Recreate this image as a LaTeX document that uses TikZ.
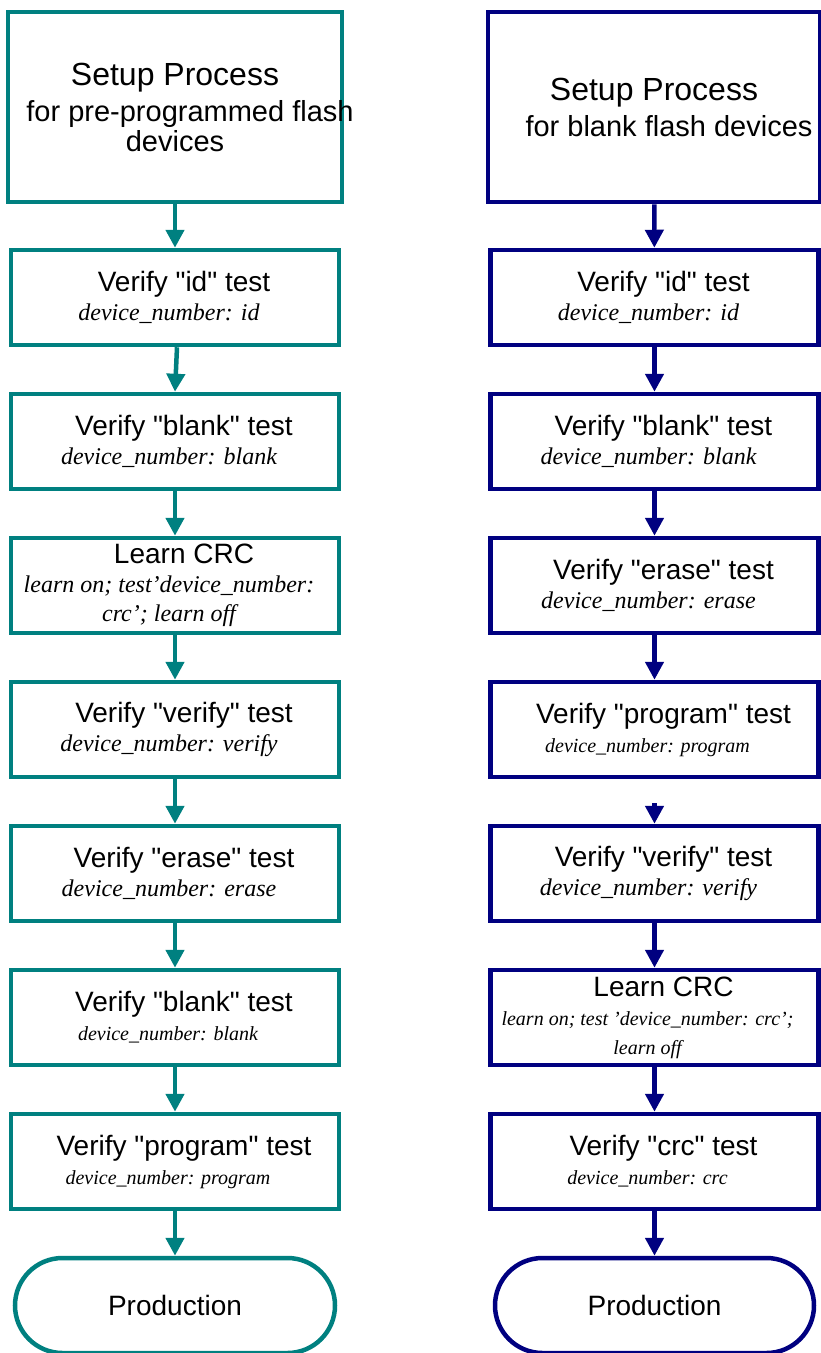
\documentclass[tikz,border=0pt]{standalone}
\usepackage{fontspec}
\setmainfont{Liberation Serif}
\setsansfont{Liberation Sans}
\usetikzlibrary{arrows.meta,shapes.misc}
\definecolor{tealline}{RGB}{0,128,128}
\definecolor{navyline}{RGB}{0,0,128}
\newcommand{\dq}{\XeTeXglyph\the\XeTeXcharglyph"22\relax}
\newcommand{\qt}[1]{\dq#1\dq}
\newcommand{\titleline}[1]{\hbox to 18pt{}#1}
\newcommand{\noteline}[1]{{\rmfamily\itshape\fontsize{24}{29}\selectfont #1\hbox to 12pt{}}}
\newcommand{\smallnote}[1]{{\rmfamily\itshape\fontsize{20}{29}\selectfont #1\hbox to 14pt{}}}
\newcommand{\setupline}[1]{{\fontsize{29}{30}\selectfont\makebox[280pt]{\hbox to 30pt{}#1}}}
\tikzset{
  stepbox/.style={draw=#1, line width=4.5pt, minimum width=328pt, minimum height=95pt,
    inner sep=0pt, align=center, font=\sffamily\fontsize{28}{29}\selectfont},
  setupbox/.style={stepbox=#1, minimum height=190pt, font=\sffamily\fontsize{32}{33}\selectfont},
  endbox/.style={draw=#1, rounded rectangle, line width=4.5pt, minimum width=320pt,
    minimum height=95pt, inner sep=0pt, font=\sffamily\fontsize{28}{29}\selectfont},
  flow/.style={draw=#1, line width=4.5pt, -{Triangle[width=18pt,length=18pt,fill=#1]}}
}
\begin{document}
\begin{tikzpicture}[x=1pt, y=1pt]
    \useasboundingbox (0,0) rectangle (821,-1353);

    % Pre-programmed devices
    \node[setupbox=tealline, minimum width=334pt] (lsetup) at (175,-107)
        {Setup Process\\[3pt]\setupline{for pre-programmed flash}\\[-3pt]{\fontsize{29}{30}\selectfont devices}};
    \node[stepbox=tealline] (l1) at (175,-297.5) {\titleline{Verify \qt{id} test}\\\noteline{device\_number: id}};
    \node[stepbox=tealline] (l2) at (175,-441.5) {\titleline{Verify \qt{blank} test}\\\noteline{device\_number: blank}};
    \node[stepbox=tealline] (l3) at (175,-585.5) {\titleline{Learn CRC}\\\noteline{learn on; test'device\_number:}\\\noteline{crc'; learn off}};
    \node[stepbox=tealline] (l4) at (175,-729.5) {\titleline{Verify \qt{verify} test}\\\noteline{device\_number: verify}};
    \node[stepbox=tealline] (l5) at (175,-873.5) {\titleline{Verify \qt{erase} test}\\\noteline{device\_number: erase}};
    \node[stepbox=tealline] (l6) at (175,-1017.5) {\titleline{Verify \qt{blank} test}\\\smallnote{device\_number: blank}};
    \node[stepbox=tealline] (l7) at (175,-1161.5) {\titleline{Verify \qt{program} test}\\\smallnote{device\_number: program}};
    \node[endbox=tealline] (lend) at (175,-1305.5) {Production};

    \draw[flow=tealline] (lsetup) -- (l1);
    \draw[flow=tealline] ([xshift=2pt]l1.south) -- (l2.north);
    \draw[flow=tealline] (l2) -- (l3);
    \draw[flow=tealline] (l3) -- (l4);
    \draw[flow=tealline] (l4) -- (l5);
    \draw[flow=tealline] (l5) -- (l6);
    \draw[flow=tealline] (l6) -- (l7);
    \draw[flow=tealline] (l7) -- (lend);

    % Blank devices
    \node[setupbox=navyline, minimum width=332pt] (rsetup) at (654,-107)
        {Setup Process\\[3pt]\setupline{for blank flash devices}};
    \node[stepbox=navyline] (r1) at (654.5,-297.5) {\titleline{Verify \qt{id} test}\\\noteline{device\_number: id}};
    \node[stepbox=navyline] (r2) at (654.5,-441.5) {\titleline{Verify \qt{blank} test}\\\noteline{device\_number: blank}};
    \node[stepbox=navyline] (r3) at (654.5,-585.5) {\titleline{Verify \qt{erase} test}\\\noteline{device\_number: erase}};
    \node[stepbox=navyline] (r4) at (654.5,-729.5) {\titleline{Verify \qt{program} test}\\\smallnote{device\_number: program}};
    \node[stepbox=navyline] (r5) at (654.5,-873.5) {\titleline{Verify \qt{verify} test}\\\noteline{device\_number: verify}};
    \node[stepbox=navyline] (r6) at (654.5,-1017.5) {\titleline{Learn CRC}\\\smallnote{learn on; test 'device\_number: crc';}\\\smallnote{learn off}};
    \node[stepbox=navyline] (r7) at (654.5,-1161.5) {\titleline{Verify \qt{crc} test}\\\smallnote{device\_number: crc}};
    \node[endbox=navyline, minimum width=319pt] (rend) at (654.5,-1305.5) {Production};
    \coordinate (rgap) at (654.5,-803);

    \draw[flow=navyline] (rsetup) -- (r1);
    \draw[flow=navyline] (r1) -- (r2);
    \draw[flow=navyline] (r2) -- (r3);
    \draw[flow=navyline] (r3) -- (r4);
    \draw[flow=navyline] (rgap) -- (r5);
    \draw[flow=navyline] (r5) -- (r6);
    \draw[flow=navyline] (r6) -- (r7);
    \draw[flow=navyline] (r7) -- (rend);
\end{tikzpicture}
\end{document}
